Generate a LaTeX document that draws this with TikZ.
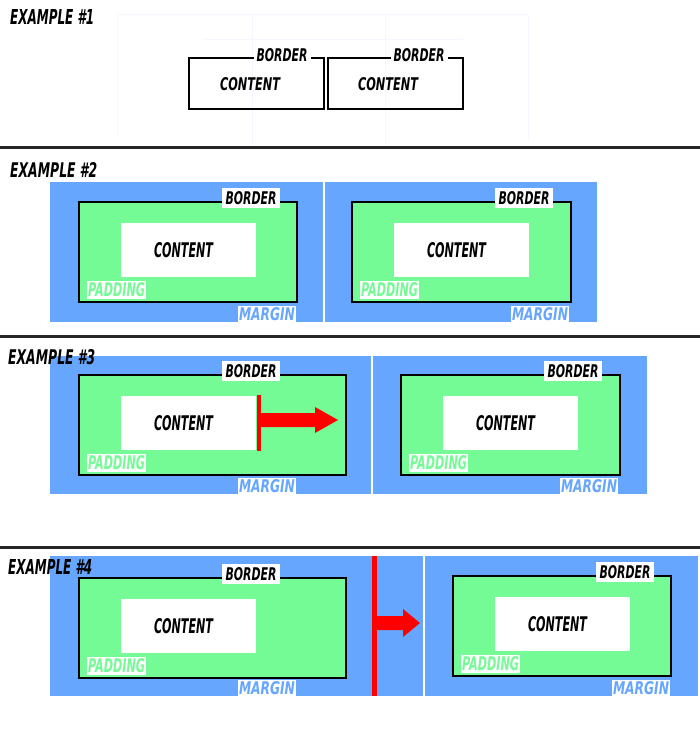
\documentclass[tikz,border=0pt]{standalone}
\usepackage{fontspec}
\usepackage{graphicx}
\newfontfamily\comicfont{DejaVu Sans}
\definecolor{mblue}{RGB}{102,166,255}
\definecolor{pgreen}{RGB}{117,251,150}
\definecolor{faint}{RGB}{244,247,255}
\newcommand\comictext[3]{\resizebox{#1pt}{#2pt}{\comicfont\bfseries\itshape #3}}
\tikzset{
  mbox/.style={fill=mblue, inner sep=0pt, outer sep=0pt, anchor=north west},
  pbox/.style={fill=pgreen, draw=black, line width=2pt, inner sep=0pt, anchor=north west},
  cbox/.style={fill=white, inner sep=0pt, anchor=north west},
  lbl/.style={fill=white, inner sep=0pt},
  plainbox/.style={draw=black, line width=2pt, inner sep=0pt, anchor=north west},
  title/.style={inner sep=0pt, anchor=west},
  sep/.style={line width=3pt, black!85},
  faintline/.style={faint, line width=1pt},
  redshape/.style={fill=red},
}
% #1 prefix, #2 gx, #3 gy, #4 gw, #5 mx, #6 my, #7 mw, #8 mh
\newcommand\examplebox[8]{%
  \node[mbox, minimum width=#7pt, minimum height=#8pt] (#1m) at (#5,#6) {};
  \node[pbox, minimum width=#4pt, minimum height=100pt] (#1p) at (#2,#3) {};
  \node[cbox, minimum width=135pt, minimum height=54pt] (#1c) at ({#2+43},{#3+22}) {};
  \node (#1ct) at ({#2+43+62.5},{#3+22+27}) {\comictext{59}{15}{CONTENT}};
  \node[lbl, minimum width=58pt, minimum height=20pt] (#1b) at ({#2+173},{#3-3}) {\comictext{51}{13}{BORDER}};
  \node[lbl, minimum width=59pt, minimum height=18pt] (#1pl) at ({#2+38.5},{#3+88.5}) {\color{pgreen}\comictext{57}{14}{PADDING}};
  \node[lbl, minimum width=58pt, minimum height=16pt] (#1ml) at ({#2+189},{#6+#8-8}) {\color{mblue}\comictext{56}{13}{MARGIN}};
}
\begin{document}
\begin{tikzpicture}[x=1pt,y=-1pt]
\fill[white] (0,0) rectangle (700,738);
\useasboundingbox (0,0) rectangle (700,738);

% ---------- Example 1 ----------
\draw[faintline] (117,15) -- (117,138);
\draw[faintline] (252,15) -- (252,145);
\draw[faintline] (385,15) -- (385,145);
\draw[faintline] (528,15) -- (528,140);
\draw[faintline] (117,15) -- (528,15);
\draw[faintline] (205,40) -- (463,40);
\node[title] (t1) at (10,17) {\comictext{84}{15}{EXAMPLE \#1}};
\node[plainbox, minimum width=135pt, minimum height=51pt] (e1a) at (188,57) {};
\node[plainbox, minimum width=135pt, minimum height=51pt] (e1b) at (327,57) {};
\node[lbl, minimum width=57pt, minimum height=16pt] (e1ab) at (282,55) {\comictext{51}{13}{BORDER}};
\node[lbl, minimum width=57pt, minimum height=16pt] (e1bb) at (419,55) {\comictext{51}{13}{BORDER}};
\node (e1ac) at (250,84) {\comictext{60}{13}{CONTENT}};
\node (e1bc) at (388,84) {\comictext{60}{13}{CONTENT}};
\draw[sep] (0,148) -- (700,148);

% ---------- Example 2 ----------
\examplebox{e2a}{78}{201}{218}{50}{182}{273}{140}
\examplebox{e2b}{351}{201}{219}{325}{182}{272}{140}
\node[title] (t2) at (10,170) {\comictext{87}{15}{EXAMPLE \#2}};
\draw[sep] (0,336) -- (700,336);

% ---------- Example 3 ----------
\examplebox{e3a}{78}{374}{267}{50}{356}{321}{138}
\examplebox{e3b}{400}{374}{219}{373}{356}{274}{138}
\node[title] (t3) at (8,357) {\comictext{87}{15}{EXAMPLE \#3}};
\fill[redshape] (257,395) rectangle (261,451);
\fill[redshape] (261,413) -- (315,413) -- (315,407) -- (338,420) -- (315,433) -- (315,427) -- (261,427) -- cycle;
\draw[sep] (0,547) -- (700,547);

% ---------- Example 4 ----------
\examplebox{e4a}{78}{577}{267}{50}{556}{373}{140}
\examplebox{e4b}{452}{575}{218}{425}{556}{273}{140}
\node[title] (t4) at (8,567) {\comictext{84}{15}{EXAMPLE \#4}};
\fill[redshape] (372,556) rectangle (377,696);
\fill[redshape] (377,616) -- (403,616) -- (403,609) -- (420,623) -- (403,637) -- (403,630) -- (377,630) -- cycle;
\end{tikzpicture}
\end{document}
